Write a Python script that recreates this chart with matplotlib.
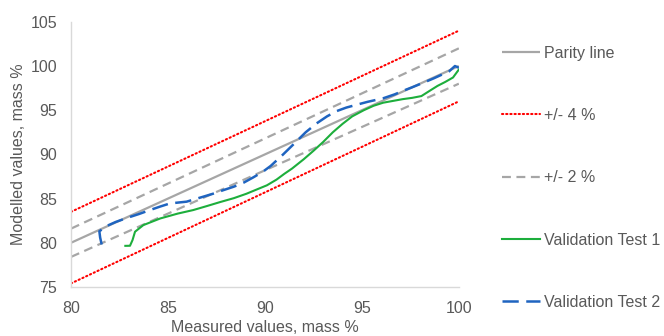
import matplotlib
matplotlib.use("Agg")
import matplotlib.pyplot as plt

# reference lines
parity_x = [80, 100]
parity_y = [80, 100]
up4_y = [83.5, 104.0]
lo4_y = [75.4, 96.0]
up2_y = [81.6, 102.0]
lo2_y = [78.4, 98.0]

# Validation Test 1 (green)
t1_x = [82.8, 83.04, 83.17, 83.3, 83.73, 84.6, 85.5, 86.3, 87.0, 87.68, 88.4, 89.05, 89.6,
        90.1, 90.6, 91.0, 91.4, 92.0, 92.5, 93.0, 93.5, 94.0, 94.5, 95.1, 95.6, 96.1, 96.6,
        97.1, 97.6, 98.07, 98.5, 98.9, 99.3, 99.7, 100.0]
t1_y = [79.65, 79.66, 80.3, 81.25, 82.0, 82.75, 83.3, 83.7, 84.15, 84.6, 85.05, 85.55, 86.05,
        86.5, 87.15, 87.8, 88.4, 89.45, 90.4, 91.4, 92.5, 93.45, 94.3, 95.0, 95.5, 95.85, 96.05,
        96.25, 96.4, 96.6, 97.2, 97.75, 98.2, 98.7, 99.6]

# Validation Test 2 (blue dashed)
t2_x = [81.58, 81.5, 81.46, 81.84, 82.3, 82.87, 83.5, 84.07, 84.6, 85.1, 85.96, 86.8, 87.4,
        87.85, 88.4, 88.9, 89.4, 89.9, 90.3, 90.94, 91.5, 92.1, 92.66, 93.2, 93.7, 94.2,
        94.7, 95.3, 96.1, 96.7, 97.13, 97.6, 98.16, 98.7, 99.2, 99.5, 99.8, 100.0]
t2_y = [79.8, 80.6, 81.3, 81.9, 82.35, 82.8, 83.25, 83.7, 84.1, 84.45, 84.65, 85.2, 85.6,
        85.95, 86.35, 86.8, 87.4, 88.05, 88.7, 90.0, 91.2, 92.5, 93.5, 94.3, 94.9, 95.3,
        95.6, 95.95, 96.35, 96.8, 97.2, 97.6, 98.1, 98.6, 99.1, 99.4, 100.0, 99.8]

xticks = [80, 85, 90, 95, 100]
yticks = [75, 80, 85, 90, 95, 100, 105]

plt.rcParams['font.family'] = ['Liberation Sans', 'DejaVu Sans']
fs = 11.5
txt = '#595959'

fig = plt.figure(figsize=(6.64, 3.36), dpi=100)
ax = fig.add_axes([0.107, 0.146, 0.584, 0.789])

grey = '#A6A6A6'
ax.plot(parity_x, parity_y, color=grey, lw=1.6, label='Parity line', solid_capstyle='butt')
ax.plot(parity_x, up4_y, color='#FF0000', lw=1.5, ls=(0, (0.6, 1.4)), label='+/- 4 %',
        dash_capstyle='round')
ax.plot(parity_x, lo4_y, color='#FF0000', lw=1.5, ls=(0, (0.6, 1.4)), dash_capstyle='round')
ax.plot(parity_x, up2_y, color=grey, lw=1.6, ls=(0, (4, 2.5)), label='+/- 2 %')
ax.plot(parity_x, lo2_y, color=grey, lw=1.6, ls=(0, (4, 2.5)))
ax.plot(t1_x, t1_y, color='#1DAE3C', lw=1.5, label='Validation Test 1')
ax.plot(t2_x, t2_y, color='#1F64C0', lw=1.8, ls=(0, (6.5, 3)), label='Validation Test 2')

ax.set_xlim(80, 100)
ax.set_ylim(75, 105)
ax.set_xticks(xticks)
ax.set_yticks(yticks)
ax.tick_params(length=0, labelsize=fs, labelcolor=txt, pad=10)
for s in ['top', 'right']:
    ax.spines[s].set_visible(False)
for s in ['left', 'bottom']:
    ax.spines[s].set_color('#D9D9D9')
    ax.spines[s].set_linewidth(1.0)

ax.set_xlabel('Measured values, mass %', fontsize=fs, color=txt, labelpad=3)
ax.set_ylabel('Modelled values, mass %', fontsize=fs, color=txt, labelpad=3)

leg = ax.legend(loc='upper left', bbox_to_anchor=(1.094, 0.934), frameon=False, fontsize=fs,
                handlelength=2.4, handletextpad=0.25, labelspacing=2.96, borderaxespad=0)
for t in leg.get_texts():
    t.set_color(txt)

fig.savefig('out.png', dpi=100)
